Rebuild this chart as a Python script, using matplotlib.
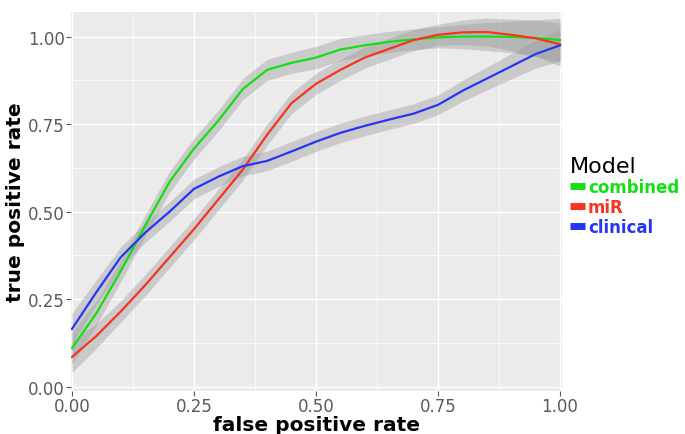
import matplotlib
matplotlib.use("Agg")
import matplotlib.pyplot as plt
from matplotlib.lines import Line2D

# ROC curves (smoothed) with confidence bands
fpr = [0.0, 0.05, 0.10, 0.15, 0.20, 0.25, 0.30, 0.35, 0.40, 0.45, 0.50,
       0.55, 0.60, 0.65, 0.70, 0.75, 0.80, 0.85, 0.90, 0.95, 1.0]

combined = [0.11, 0.21, 0.33, 0.46, 0.585, 0.68, 0.76, 0.85, 0.905, 0.925, 0.94,
            0.963, 0.975, 0.985, 0.992, 0.998, 1.0, 1.0, 0.999, 0.996, 0.99]
mir = [0.085, 0.145, 0.215, 0.29, 0.37, 0.45, 0.535, 0.62, 0.72, 0.81, 0.865,
       0.905, 0.94, 0.965, 0.99, 1.005, 1.012, 1.013, 1.005, 0.995, 0.978]
clinical = [0.165, 0.27, 0.37, 0.44, 0.50, 0.565, 0.60, 0.63, 0.645, 0.672, 0.70,
            0.725, 0.745, 0.763, 0.78, 0.805, 0.845, 0.88, 0.915, 0.95, 0.975]

# half-width of the confidence band
combined_se = [0.045, 0.035, 0.03, 0.03, 0.03, 0.03, 0.03, 0.03, 0.03, 0.03, 0.032,
               0.032, 0.03, 0.03, 0.03, 0.03, 0.035, 0.04, 0.045, 0.052, 0.062]
mir_se = [0.045, 0.035, 0.03, 0.03, 0.03, 0.03, 0.03, 0.03, 0.03, 0.03, 0.03,
          0.03, 0.03, 0.03, 0.03, 0.03, 0.035, 0.04, 0.045, 0.052, 0.062]
clinical_se = [0.045, 0.035, 0.03, 0.028, 0.028, 0.028, 0.028, 0.028, 0.028, 0.028, 0.028,
               0.028, 0.028, 0.028, 0.028, 0.028, 0.03, 0.033, 0.036, 0.04, 0.045]

models = ["combined", "miR", "clinical"]
series = [combined, mir, clinical]
bands = [combined_se, mir_se, clinical_se]
colors = ["#12e012", "#f8331f", "#2636f5"]

fig = plt.figure(figsize=(6.85, 4.35), dpi=100)
ax = fig.add_axes([0.1036, 0.0989, 0.7168, 0.8711])
ax.set_facecolor("#ebebeb")

for y, se in zip(series, bands):
    lo = [a - b for a, b in zip(y, se)]
    hi = [a + b for a, b in zip(y, se)]
    ax.fill_between(fpr, lo, hi, color="#999999", alpha=0.4, linewidth=0, zorder=2)
for y, c in zip(series, colors):
    ax.plot(fpr, y, color=c, linewidth=1.6, zorder=3)

ax.set_xlim(-0.002, 1.004)
ax.set_ylim(-0.012, 1.07)
ticks = [0, 0.25, 0.5, 0.75, 1.0]
labels = ["0.00", "0.25", "0.50", "0.75", "1.00"]
ax.set_xticks(ticks)
ax.set_yticks(ticks)
ax.set_xticklabels(labels)
ax.set_yticklabels(labels)
ax.set_xticks([0.125, 0.375, 0.625, 0.875], minor=True)
ax.set_yticks([0.125, 0.375, 0.625, 0.875], minor=True)
ax.grid(True, which="major", color="white", linewidth=1.0, zorder=1)
ax.grid(True, which="minor", color="white", linewidth=0.5, zorder=1)
ax.set_axisbelow(True)
ax.tick_params(which="major", labelsize=12, labelcolor="#5a5a5a", color="#5a5a5a",
               length=3.5, width=0.8, pad=1)
ax.tick_params(which="minor", length=0)
for s in ax.spines.values():
    s.set_visible(False)

ax.set_xlabel("false positive rate", fontsize=14.5, fontweight="bold", labelpad=0)
ax.set_ylabel("true positive rate", fontsize=14.5, fontweight="bold", labelpad=2)

handles = [Line2D([], [], color=c, linewidth=5, solid_capstyle="butt") for c in colors]
leg = ax.legend(handles, models, title="Model", loc="center left",
                bbox_to_anchor=(1.0, 0.515), frameon=False, fontsize=12,
                title_fontsize=16, handlelength=0.9, handletextpad=0.15,
                labelspacing=0.12, labelcolor=colors, borderaxespad=0.3,
                borderpad=0.2)
leg._legend_box.align = "left"
for t in leg.get_texts():
    t.set_fontweight("bold")

fig.savefig("out.png", dpi=100)
